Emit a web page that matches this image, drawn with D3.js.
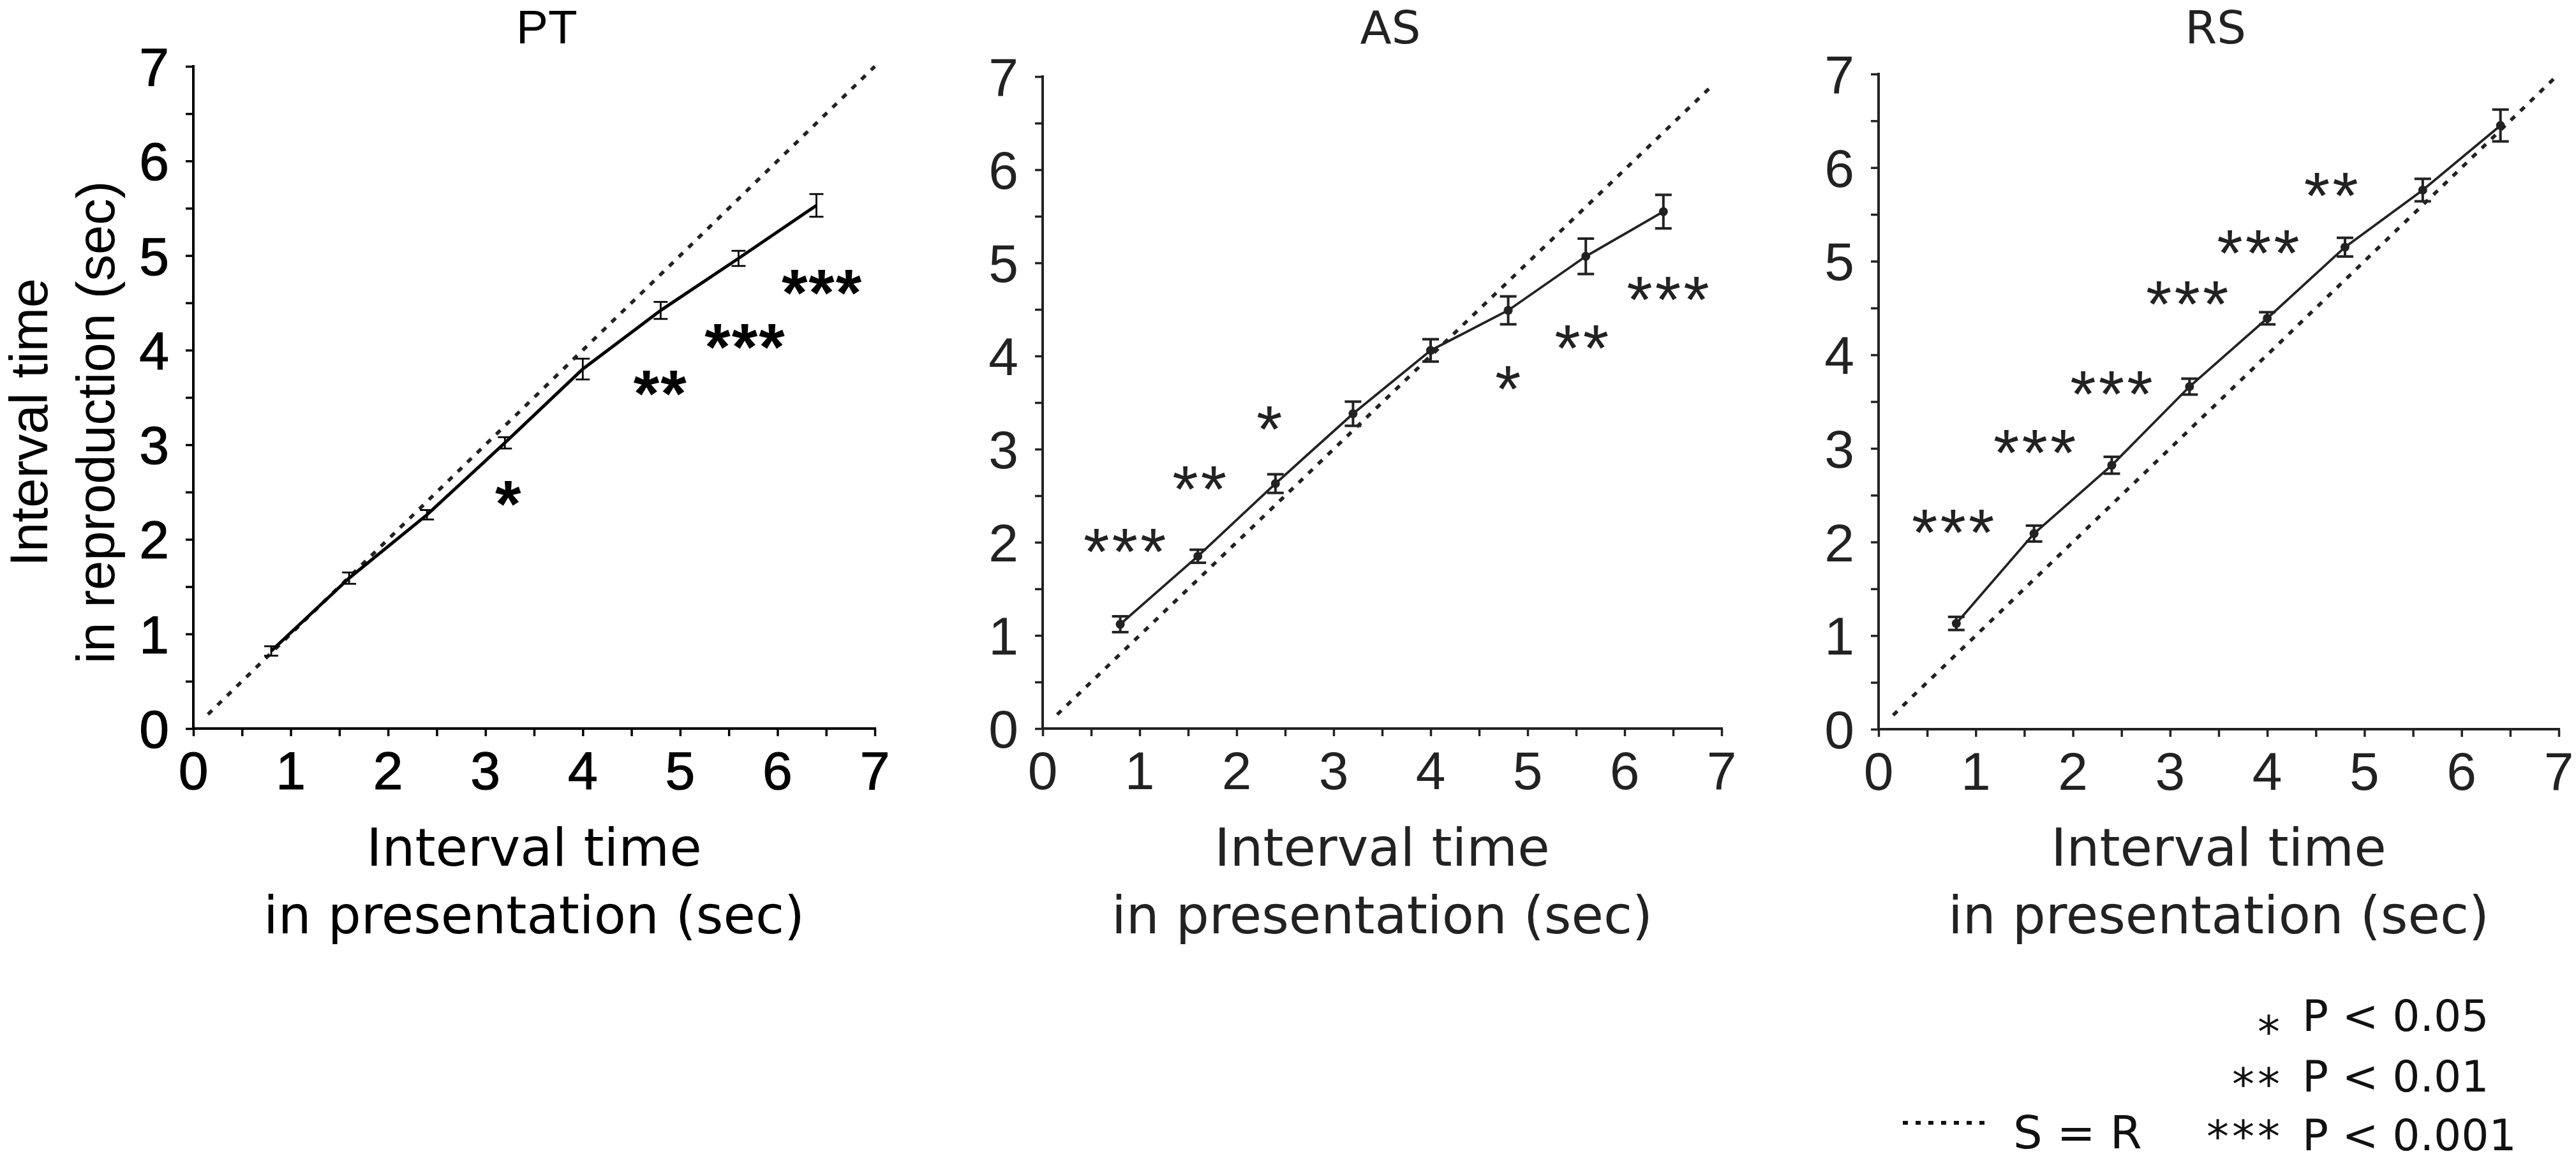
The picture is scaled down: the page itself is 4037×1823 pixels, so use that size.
<!DOCTYPE html>
<html lang="en">
<head>
    <title>Interval reproduction</title>
    <script src="https://d3js.org/d3.v7.min.js"></script>
    <style>
        body { margin: 0; background: #fff; }
    </style>
</head>
<body>

<script>
    // presented intervals (sec)
    const presented = [0.8, 1.6, 2.4, 3.2, 4.0, 4.8, 5.6, 6.4];

    // reproduced intervals, mean and error bar half-length
    const ptMean = [0.82, 1.59, 2.26, 3.02, 3.80, 4.42, 4.97, 5.53];
    const ptErr  = [0.05, 0.06, 0.05, 0.06, 0.11, 0.09, 0.08, 0.12];
    const asMean = [1.12, 1.85, 2.63, 3.38, 4.06, 4.49, 5.07, 5.55];
    const asErr  = [0.085, 0.07, 0.10, 0.13, 0.12, 0.15, 0.19, 0.18];
    const rsMean = [1.13, 2.09, 2.82, 3.66, 4.39, 5.15, 5.76, 6.45];
    const rsErr  = [0.07, 0.085, 0.09, 0.085, 0.065, 0.10, 0.12, 0.17];

    // significance marks: [x, y, label]
    const ptStars = [[3.24, 2.53, '*'], [4.80, 3.70, '**'], [5.67, 4.19, '***'], [6.46, 4.76, '***']];
    const asStars = [[0.86, 2.06, '***'], [1.63, 2.73, '**'], [2.35, 3.37, '*'],
                     [4.81, 3.80, '*'], [5.57, 4.24, '**'], [6.46, 4.76, '***']];
    const rsStars = [[0.78, 2.26, '***'], [1.62, 3.11, '***'], [2.41, 3.74, '***'],
                     [3.19, 4.70, '***'], [3.92, 5.24, '***'], [4.67, 5.86, '**']];

    const panelNames = ['PT', 'AS', 'RS'];
    const tickValues = [0, 1, 2, 3, 4, 5, 6, 7];
    const minorTicks = d3.range(0, 7.01, 0.5);
    const identityLine = [0.15, 7];
    const identityEnd = [7, 6.9, 6.95];

    const legendStars = ['*', '**', '***'];
    const legendP = ['P < 0.05', 'P < 0.01', 'P < 0.001'];

    const W = 4037, H = 1823;
    const svg = d3.select("body").append("svg")
            .attr("width", W).attr("height", H);

    // panel frames in pixels
    const frames = [
        {left: 303,  right: 1371, top: 104, bottom: 1142, titleX: 857},
        {left: 1634, right: 2698, top: 120, bottom: 1142, titleX: 2179},
        {left: 2944, right: 4010, top: 116, bottom: 1143, titleX: 3472}
    ];
    const means = [ptMean, asMean, rsMean];
    const errs = [ptErr, asErr, rsErr];
    const stars = [ptStars, asStars, rsStars];

    frames.forEach((f, i) => {
        const isPT = i === 0;
        const ink = isPT ? '#000' : '#222';
        const x = d3.scaleLinear().domain([0, 7]).range([f.left, f.right]);
        const y = d3.scaleLinear().domain([0, 7]).range([f.bottom, f.top]);
        const g = svg.append("g");

        // axes: ticks every 0.5, labels at integers
        const xAxis = d3.axisBottom(x).tickValues(minorTicks).tickSize(12).tickFormat("");
        const yAxis = d3.axisLeft(y).tickValues(minorTicks).tickSize(12).tickFormat("");
        g.append("g").attr("transform", `translate(0,${f.bottom})`).call(xAxis);
        g.append("g").attr("transform", `translate(${f.left},0)`).call(yAxis);
        g.selectAll(".domain").remove();
        g.append("line").attr("x1", x(0)).attr("x2", x(7))
                .attr("y1", y(0)).attr("y2", y(0))
                .attr("stroke", ink).attr("stroke-width", 4).attr("stroke-linecap", "square");
        g.append("line").attr("x1", x(0)).attr("x2", x(0))
                .attr("y1", y(0)).attr("y2", y(7))
                .attr("stroke", ink).attr("stroke-width", 4).attr("stroke-linecap", "square");
        g.selectAll(".tick line").attr("stroke", ink).attr("stroke-width", 3.5);

        const labelFont = {family: '"Liberation Sans", Arial, sans-serif', size: 84};
        g.selectAll("text.xt").data(tickValues).enter().append("text")
                .attr("class", "xt")
                .attr("x", d => x(d)).attr("y", f.bottom + 95)
                .attr("text-anchor", "middle")
                .style("font-family", labelFont.family).style("font-size", labelFont.size + "px")
                .style("fill", ink)
                .style("stroke", isPT ? '#000' : 'none').style("stroke-width", 1.2)
                .text(d => d);
        g.selectAll("text.yt").data(tickValues).enter().append("text")
                .attr("class", "yt")
                .attr("x", f.left - 38).attr("y", d => y(d) + 30)
                .attr("text-anchor", "end")
                .style("font-family", labelFont.family).style("font-size", labelFont.size + "px")
                .style("fill", ink)
                .style("stroke", isPT ? '#000' : 'none').style("stroke-width", 1.2)
                .text(d => d);

        // S = R dotted line
        g.append("line")
                .attr("x1", x(identityLine[0])).attr("y1", y(identityLine[0]))
                .attr("x2", x(identityEnd[i])).attr("y2", y(identityEnd[i]))
                .attr("stroke", "#222").attr("stroke-width", 5.5)
                .attr("stroke-dasharray", "9,12");

        // reproduction line
        const pts = presented.map((p, k) => ({p: p, m: means[i][k], e: errs[i][k]}));
        g.append("path").datum(pts)
                .attr("d", d3.line().x(d => x(d.p)).y(d => y(d.m)))
                .attr("fill", "none").attr("stroke", ink)
                .attr("stroke-width", isPT ? 5 : 3.8);

        // error bars
        const capW = isPT ? 11 : 13;
        const eb = g.selectAll("g.eb").data(pts).enter().append("g")
                .attr("stroke", ink).attr("stroke-width", isPT ? 2.8 : 4);
        eb.append("line")
                .attr("x1", d => x(d.p)).attr("x2", d => x(d.p))
                .attr("y1", d => y(d.m - d.e)).attr("y2", d => y(d.m + d.e));
        eb.append("line")
                .attr("x1", d => x(d.p) - capW).attr("x2", d => x(d.p) + capW)
                .attr("y1", d => y(d.m + d.e)).attr("y2", d => y(d.m + d.e));
        eb.append("line")
                .attr("x1", d => x(d.p) - capW).attr("x2", d => x(d.p) + capW)
                .attr("y1", d => y(d.m - d.e)).attr("y2", d => y(d.m - d.e));
        if (!isPT) {
            g.selectAll("circle.pt").data(pts).enter().append("circle")
                    .attr("cx", d => x(d.p)).attr("cy", d => y(d.m))
                    .attr("r", 7).attr("fill", ink);
        }

        // significance marks
        const starSize = 104;
        g.selectAll("text.star").data(stars[i]).enter().append("text")
                .attr("class", "star")
                .attr("x", d => x(d[0])).attr("y", d => y(d[1]) + 0.57 * starSize)
                .attr("text-anchor", "middle")
                .style("font-family", '"Liberation Sans", Arial, sans-serif')
                .style("font-size", starSize + "px")
                .style("font-weight", isPT ? "bold" : "normal")
                .style("letter-spacing", isPT ? "2px" : "4px")
                .style("fill", ink)
                .text(d => d[2]);

        // panel title
        svg.append("text")
                .attr("x", f.titleX).attr("y", 68)
                .attr("text-anchor", "middle")
                .style("font-family", isPT ? '"Liberation Sans", Arial, sans-serif' : '"DejaVu Sans", sans-serif')
                .style("font-size", isPT ? "75px" : "72px")
                .style("fill", ink)
                .text(panelNames[i]);

        // x axis title
        const xt = svg.append("text")
                .attr("text-anchor", "middle")
                .style("font-family", '"DejaVu Sans", sans-serif')
                .style("font-size", "82px").style("fill", ink);
        xt.append("tspan").attr("x", (f.left + f.right) / 2).attr("y", 1357).text("Interval time");
        xt.append("tspan").attr("x", (f.left + f.right) / 2).attr("y", 1463).text("in presentation (sec)");
    });

    // y axis title on first panel
    const yTitle = ["Interval time", "in reproduction (sec)"];
    svg.selectAll("text.ytitle").data(yTitle).enter().append("text")
            .attr("class", "ytitle")
            .attr("transform", (d, k) => `translate(${74 + k * 105},662) rotate(-90)`)
            .attr("text-anchor", "middle")
            .style("font-family", '"Liberation Sans", Arial, sans-serif')
            .style("font-size", "83px").style("fill", "#000")
            .text(d => d);

    // legend
    const lg = svg.append("g");
    const rowBase = [1616, 1711, 1803];
    const starBase = [1642, 1724, 1806];
    lg.selectAll("text.ls").data(legendStars).enter().append("text")
            .attr("class", "ls")
            .attr("x", 3578).attr("y", (d, k) => starBase[k])
            .attr("text-anchor", "end")
            .style("font-family", '"DejaVu Sans", sans-serif')
            .style("font-size", "70px").style("letter-spacing", "5px")
            .style("fill", "#111")
            .text(d => d);
    lg.selectAll("text.lp").data(legendP).enter().append("text")
            .attr("class", "lp")
            .attr("x", 3608).attr("y", (d, k) => rowBase[k])
            .style("font-family", '"DejaVu Sans", sans-serif')
            .style("font-size", "68px").style("fill", "#111")
            .text(d => d);
    lg.append("line")
            .attr("x1", 2982).attr("x2", 3120).attr("y1", 1760).attr("y2", 1760)
            .attr("stroke", "#111").attr("stroke-width", 6).attr("stroke-dasharray", "8,12");
    lg.append("text")
            .attr("x", 3155).attr("y", 1800)
            .style("font-family", '"DejaVu Sans", sans-serif')
            .style("font-size", "72px").style("fill", "#111")
            .text("S = R");
</script>

</body>
</html>
